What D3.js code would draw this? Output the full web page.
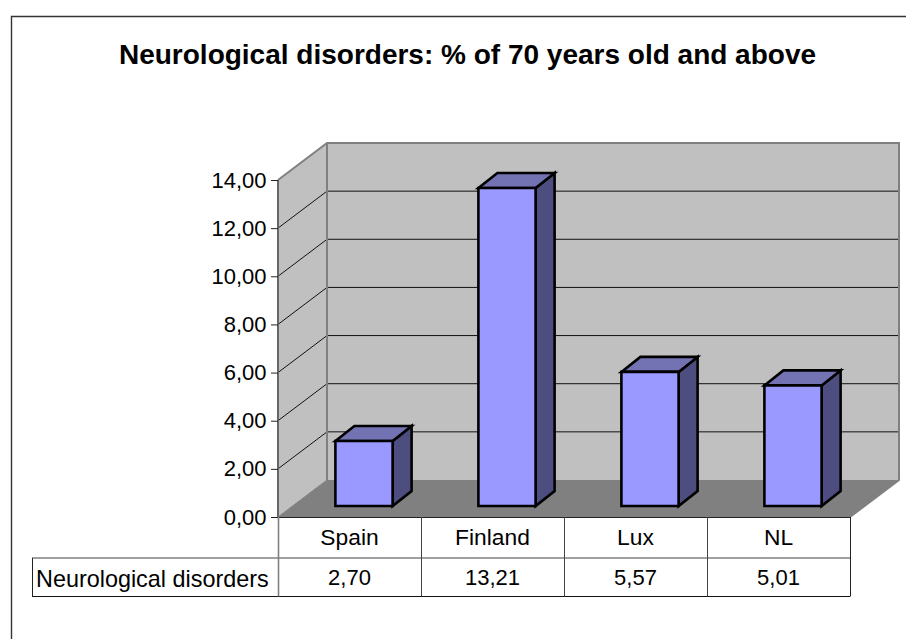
<!DOCTYPE html>
<html><head><meta charset="utf-8">
<script src="https://cdn.jsdelivr.net/npm/d3@7/dist/d3.min.js"></script>
<style>html,body{margin:0;padding:0;background:#fff}svg{display:block}text{font-family:"Liberation Sans",Arial,sans-serif;fill:#000}</style>
</head><body><div id="c"></div>
<script>
const categories=["Spain","Finland","Lux","NL"];
const values=[2.70,13.21,5.57,5.01];
const valueLabels=["2,70","13,21","5,57","5,01"];
const ticks=[0,2,4,6,8,10,12,14];
const seriesName="Neurological disorders";
const titleText="Neurological disorders: % of 70 years old and above";

const svg=d3.select("#c").append("svg").attr("width",906).attr("height",639);
const y=d3.scaleLinear().domain([0,14]).range([517,180]);
const x=d3.scaleBand().domain(categories).range([278,850]).paddingInner(0).paddingOuter(0);
const depth={dx:49,dy:-37};
const fmt=d=>d3.format(".2f")(d).replace(".",",");
const poly=(pts,fill,stroke,w)=>svg.append("polygon").attr("points",pts.map(p=>p.join(",")).join(" ")).attr("fill",fill).attr("stroke",stroke||"none").attr("stroke-width",w||0).attr("stroke-linejoin","miter");
const line=(a,b,c,d,s,w)=>svg.append("line").attr("x1",a).attr("y1",b).attr("x2",c).attr("y2",d).attr("stroke",s).attr("stroke-width",w);

// frame
svg.append("path").attr("d","M11.5,639V16.5H906").attr("fill","none").attr("stroke","#333").attr("stroke-width",1.4);
// title
svg.append("text").attr("x",467.5).attr("y",64).attr("text-anchor","middle").attr("font-weight","bold").attr("font-size",28).text(titleText);

const [x0,x1]=x.range(), y0=y(0), yT=y(14);
const d=depth;
// walls and floor
poly([[x0,y0],[x0+d.dx,y0+d.dy],[x0+d.dx,yT+d.dy],[x0,yT]],"#c0c0c0");
poly([[x0+d.dx,y0+d.dy],[x1+d.dx,y0+d.dy],[x1+d.dx,yT+d.dy],[x0+d.dx,yT+d.dy]],"#c0c0c0");
poly([[x0,y0],[x1,y0],[x1+d.dx,y0+d.dy],[x0+d.dx,y0+d.dy]],"#808080");
// gridlines
ticks.slice(1,-1).forEach(t=>{
  svg.append("path").attr("fill","none").attr("stroke","#111").attr("stroke-width",1)
   .attr("d",d3.line()([[x0,y(t)],[x0+d.dx,y(t)+d.dy],[x1+d.dx,y(t)+d.dy]]));
});
// wall outlines
svg.append("path").attr("fill","none").attr("stroke","#808080").attr("stroke-width",2)
  .attr("d",d3.line()([[x0,yT],[x0+d.dx,yT+d.dy],[x1+d.dx,yT+d.dy],[x1+d.dx,y0+d.dy],[x1,y0]]));
line(x0+d.dx,yT+d.dy,x0+d.dx,y0+d.dy,"#808080",2);
line(x0,yT,x0,y0,"#666",2);
svg.append("path").attr("fill","none").attr("stroke","#808080").attr("stroke-width",1).attr("d",d3.line()([[x0,y0],[x0+d.dx,y0+d.dy]]));
// axis ticks + labels
ticks.forEach(t=>{
  line(x0-7,y(t)+.5,x0,y(t)+.5,"#222",1);
  svg.append("text").attr("x",x0-11.5).attr("y",y(t)+7.5).attr("text-anchor","end").attr("font-size",22).text(fmt(t));
});
// bars
const barW=x.bandwidth()*0.4;
const ins={dx:14.5,dy:-11}, bd={dx:19,dy:-15};
categories.forEach((c,i)=>{
  const l=x(c)+x.bandwidth()/2+ins.dx-barW/2, r=l+barW;
  const b=y(0)+ins.dy, t=y(values[i])+ins.dy;
  poly([[r,t],[r+bd.dx,t+bd.dy],[r+bd.dx,b+bd.dy],[r,b]],"#4d4d80","#000",2.6);
  poly([[l,t],[l+bd.dx,t+bd.dy],[r+bd.dx,t+bd.dy],[r,t]],"#7373b3","#000",2.6);
  poly([[l,t],[r,t],[r,b],[l,b]],"#9999ff","#000",2.6);
});
// data table
const rowA=558, rowB=596, labelX=32;
line(x0,y0+.5,x1,y0+.5,"#222",1);
line(labelX,rowA,x1,rowA,"#808080",1.4);
line(labelX,rowB+.5,x1,rowB+.5,"#111",1.2);
line(labelX+.5,rowA,labelX+.5,rowB+.5,"#222",1);
line(x1+.5,y0,x1+.5,rowB+.5,"#222",1);
categories.forEach((c,i)=>{
  const px=x(c)+.5;
  line(px,y0,px,rowB+.5,i===0?"#808080":"#444",i===0?1.6:1);
});
categories.forEach((c,i)=>{
  const cx=x(c)+x.bandwidth()/2;
  svg.append("text").attr("x",cx).attr("y",545).attr("text-anchor","middle").attr("font-size",22.8).text(c);
  svg.append("text").attr("x",cx).attr("y",585).attr("text-anchor","middle").attr("font-size",22).text(valueLabels[i]);
});
svg.append("text").attr("x",36).attr("y",587).attr("font-size",23.4).text(seriesName);
</script></body></html>
